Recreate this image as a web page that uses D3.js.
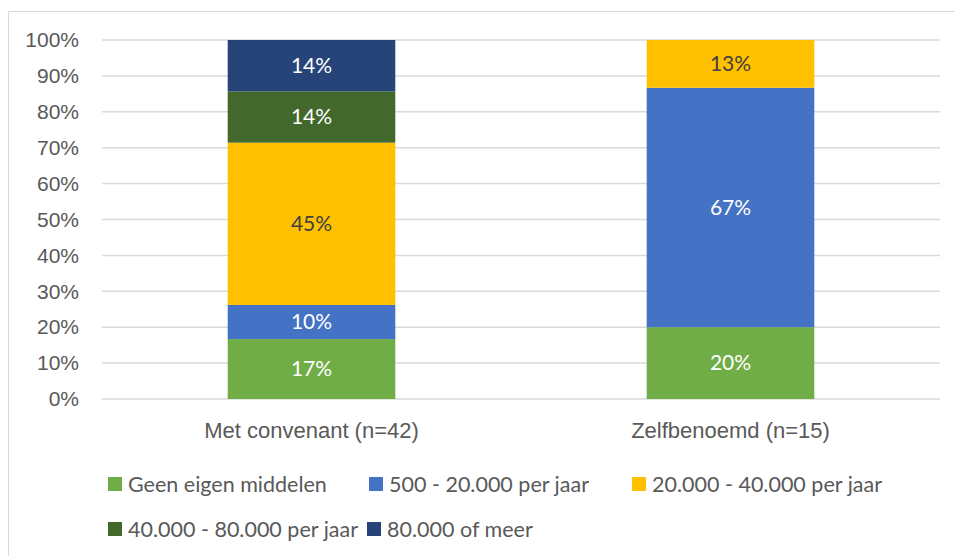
<!DOCTYPE html>
<html>
<head>
<meta charset="utf-8">
<script src="https://cdn.jsdelivr.net/npm/d3@7"></script>
<style>
  body { margin: 0; background: #fff; }
  svg { display: block; font-family: Lato, "Open Sans", sans-serif; }
</style>
</head>
<body>
<svg width="955" height="556"></svg>
<script>
    // data (shares per group)
    var categories = ['Met convenant (n=42)', 'Zelfbenoemd (n=15)'];
    var seriesNames = ['Geen eigen middelen', '500 - 20.000 per jaar', '20.000 - 40.000 per jaar',
        '40.000 - 80.000 per jaar', '80.000 of meer'];
    var seriesColors = ['#70ad47', '#4472c4', '#ffc000', '#43682b', '#264478'];
    var labelColors = ['#fff', '#fff', '#404040', '#fff', '#fff'];
    var metConvenant = [0.167, 0.095, 0.452, 0.143, 0.143];
    var zelfbenoemd = [0.20, 0.667, 0.133, 0, 0];
    var yTicks = [0, 0.1, 0.2, 0.3, 0.4, 0.5, 0.6, 0.7, 0.8, 0.9, 1];

    var svg = d3.select("svg");

    // chart frame (runs off the right and bottom edge)
    svg.append("rect")
        .attr("x", 8.5).attr("y", 11.5)
        .attr("width", 960).attr("height", 560)
        .attr("fill", "none")
        .attr("stroke", "#d9d9d9");

    var margin = {top: 40, left: 102, right: 15, bottom: 157};
    var width = 955 - margin.left - margin.right;
    var height = 556 - margin.top - margin.bottom;
    var g = svg.append("g").attr("transform", "translate(" + margin.left + "," + margin.top + ")");

    var x = d3.scaleBand().domain(categories).range([0, width]).paddingInner(0.6).paddingOuter(0.3);
    var y = d3.scaleLinear().domain([0, 1]).range([height, 0]);

    // gridlines
    g.append("g")
        .selectAll("line")
        .data(yTicks)
        .enter().append("line")
        .attr("x1", 0).attr("x2", width)
        .attr("y1", function (d) { return y(d); })
        .attr("y2", function (d) { return y(d); })
        .attr("stroke", "#d9d9d9")
        .attr("stroke-width", 1.5);

    var yAxis = g.append("g")
        .call(d3.axisLeft(y).tickValues(yTicks).tickFormat(d3.format(".0%")).tickSize(0).tickPadding(23));
    yAxis.select(".domain").remove();
    yAxis.selectAll("text").attr("fill", "#595959").style("font-size", "21px").style("font-family", null);

    var xAxis = g.append("g")
        .attr("transform", "translate(0," + height + ")")
        .call(d3.axisBottom(x).tickSize(0).tickPadding(23));
    xAxis.select(".domain").remove();
    xAxis.selectAll("text").attr("fill", "#595959").style("font-size", "22px").style("font-family", null);

    var rows = [metConvenant, zelfbenoemd];
    var table = categories.map(function (c, i) {
        var obj = {cat: c};
        seriesNames.forEach(function (s, j) { obj[s] = rows[i][j]; });
        return obj;
    });
    var stack = d3.stack().keys(seriesNames)(table);

    var layer = g.selectAll(".layer")
        .data(stack)
        .enter().append("g")
        .attr("class", "layer");

    layer.selectAll("rect")
        .data(function (d) { return d.filter(function (p) { return p[1] - p[0] > 0; }); })
        .enter().append("rect")
        .attr("x", function (d) { return x(d.data.cat); })
        .attr("width", x.bandwidth())
        .attr("y", function (d) { return y(d[1]); })
        .attr("height", function (d) { return y(d[0]) - y(d[1]); })
        .attr("fill", function () { return seriesColors[seriesNames.indexOf(d3.select(this.parentNode).datum().key)]; });

    layer.selectAll("text")
        .data(function (d) { return d.filter(function (p) { return p[1] - p[0] > 0; }); })
        .enter().append("text")
        .attr("x", function (d) { return x(d.data.cat) + x.bandwidth() / 2; })
        .attr("y", function (d) { return (y(d[0]) + y(d[1])) / 2; })
        .attr("dy", "0.35em")
        .attr("text-anchor", "middle")
        .style("font-size", "21px")
        .attr("fill", function () { return labelColors[seriesNames.indexOf(d3.select(this.parentNode).datum().key)]; })
        .text(function (d) { return Math.round((d[1] - d[0]) * 100) + "%"; });

    // legend
    var legendPos = [[108, 484], [369, 484], [632, 484], [108, 529], [367, 529]];
    var legend = svg.append("g")
        .selectAll("g")
        .data(seriesNames)
        .enter().append("g")
        .attr("transform", function (d, i) { return "translate(" + legendPos[i][0] + "," + legendPos[i][1] + ")"; });
    legend.append("rect")
        .attr("x", 0).attr("y", -7)
        .attr("width", 14).attr("height", 14)
        .attr("fill", function (d, i) { return seriesColors[i]; });
    legend.append("text")
        .attr("x", 20)
        .attr("dy", "0.35em")
        .attr("fill", "#595959")
        .style("font-size", "21.5px")
        .text(function (d) { return d; });
</script>
</body>
</html>
